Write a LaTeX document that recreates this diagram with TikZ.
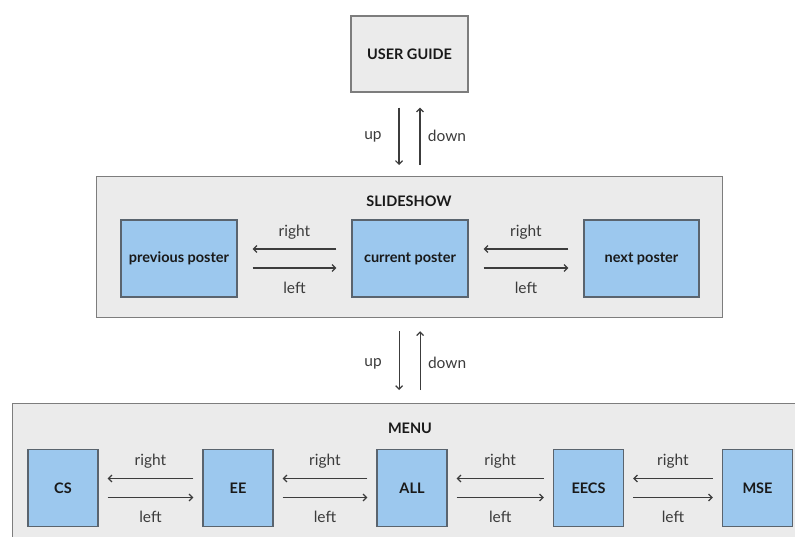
\documentclass[tikz,border=0pt]{standalone}
\usepackage{fontspec}
\setmainfont{Lato}
\usetikzlibrary{arrows.meta, positioning, calc}
\definecolor{panelgray}{RGB}{235, 235, 235}
\definecolor{edgegray}{RGB}{125, 125, 125}
\definecolor{posterblue}{RGB}{156, 200, 238}
\definecolor{posteredge}{RGB}{90, 100, 110}
\definecolor{arrowgray}{RGB}{60, 60, 60}
\definecolor{textdark}{RGB}{25, 25, 25}

\tikzset{
  panel/.style={draw=edgegray, fill=panelgray, line width=1.2pt, inner sep=0pt,
    font=\bfseries\fontsize{14.5}{16}\selectfont, text=textdark},
  poster/.style={draw=posteredge, fill=posterblue, line width=1.2pt, inner sep=0pt,
    font=\bfseries\fontsize{14.5}{16}\selectfont, text=textdark},
  title/.style={font=\bfseries\fontsize{14.5}{16}\selectfont, text=textdark},
  nav/.style={-{Straight Barb[length=3.5pt, width=7pt]}, draw=arrowgray, line width=1.2pt},
  navlabel/.style={font=\fontsize{15.5}{17}\selectfont, text=textdark!85}
}

\begin{document}
\begin{tikzpicture}[x=1pt, y=-1pt]
  \useasboundingbox (0,0) rectangle (795,536);

  % ── User guide ───────────────────────────────────────────────────────────
  \node[panel, minimum width=117pt, minimum height=76pt] (guide) at (409.5,54) {USER GUIDE};

  % ── Slideshow panel ──────────────────────────────────────────────────────
  \node[panel, anchor=north west, minimum width=626pt, minimum height=141pt] (slides) at (96,176) {};
  \node[title] (slidestitle) at (409,201) {SLIDESHOW};

  \node[poster, minimum width=116pt, minimum height=77pt] (prev) at (179,258.5) {previous poster};
  \node[poster, minimum width=116pt, minimum height=77pt] (cur)  at (410,258.5) {current poster};
  \node[poster, minimum width=115pt, minimum height=77pt] (next) at (641.5,258.5) {next poster};

  \foreach \a/\b in {prev/cur, cur/next} {
    \draw[nav, shorten <=15pt, shorten >=15pt] ([yshift=9.5pt]\b.west) -- ([yshift=9.5pt]\a.east)
      node[navlabel, midway, yshift=17pt] {right};
    \draw[nav, shorten <=15pt, shorten >=15pt] ([yshift=-9.5pt]\a.east) -- ([yshift=-9.5pt]\b.west)
      node[navlabel, midway, yshift=-20pt] {left};
  }

  % ── Menu panel (runs off the page) ───────────────────────────────────────
  \node[panel, anchor=north west, minimum width=800pt, minimum height=160pt] (menu) at (12,403) {};
  \node[title] (menutitle) at (410,428) {MENU};

  \foreach \name/\xc in {CS/63, EE/238, ALL/412, EECS/588.5, MSE/757.5}
    \node[poster, minimum width=70pt, minimum height=77pt] (\name) at (\xc,488) {\name};

  \foreach \a/\b in {CS/EE, EE/ALL, ALL/EECS, EECS/MSE} {
    \draw[nav, shorten <=9pt, shorten >=9pt] ([yshift=9.5pt]\b.west) -- ([yshift=9.5pt]\a.east)
      node[navlabel, midway, yshift=17pt] {right};
    \draw[nav, shorten <=9pt, shorten >=9pt] ([yshift=-9.5pt]\a.east) -- ([yshift=-9.5pt]\b.west)
      node[navlabel, midway, yshift=-19pt] {left};
  }

  % ── Up / down between the levels ─────────────────────────────────────────
  \draw[nav, shorten <=15pt, shorten >=11pt] ([xshift=-10.5pt]guide.south) -- ([xshift=-10.5pt]guide.south |- slides.north)
    node[navlabel, midway, xshift=-26pt, yshift=-3pt] {up};
  \draw[nav, shorten <=11pt, shorten >=15pt] ([xshift=10.5pt]guide.south |- slides.north) -- ([xshift=10.5pt]guide.south)
    node[navlabel, midway, xshift=27pt, yshift=-2pt] {down};

  \draw[nav, shorten <=13pt, shorten >=13pt] ([xshift=-10.5pt]slides.south) -- ([xshift=-10.5pt]slides.south |- menu.north)
    node[navlabel, midway, xshift=-26pt, yshift=-3pt] {up};
  \draw[nav, shorten <=13pt, shorten >=13pt] ([xshift=10.5pt]slides.south |- menu.north) -- ([xshift=10.5pt]slides.south)
    node[navlabel, midway, xshift=27pt, yshift=-2pt] {down};
\end{tikzpicture}
\end{document}
